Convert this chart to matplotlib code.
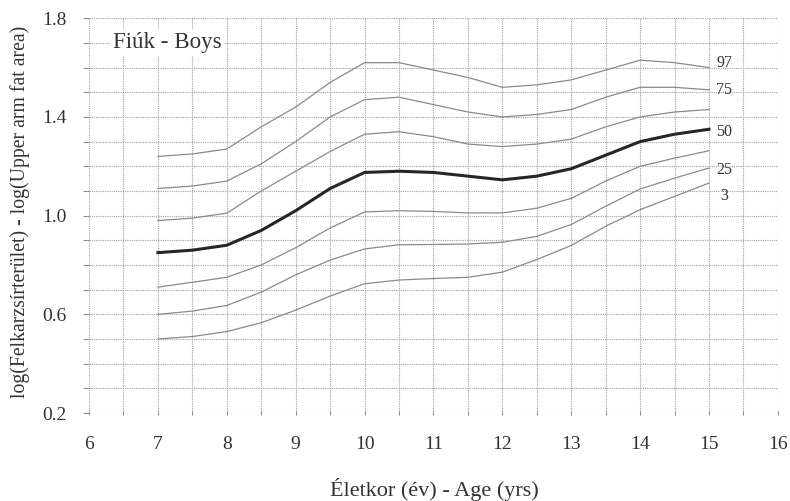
import numpy as np
import matplotlib
matplotlib.use('Agg')
import matplotlib.pyplot as plt

plt.rcParams['font.family'] = ['Liberation Serif', 'DejaVu Serif']

# eletkor (ev) - age in years
ages = [7, 7.5, 8, 8.5, 9, 9.5, 10, 10.5, 11, 11.5, 12, 12.5, 13, 13.5, 14, 14.5, 15]

# percentile curves
p97 = [1.24, 1.25, 1.27, 1.36, 1.44, 1.54, 1.62, 1.62, 1.59, 1.56, 1.52, 1.53, 1.55, 1.59, 1.63, 1.62, 1.60]
p90 = [0.98, 0.99, 1.01, 1.10, 1.18, 1.26, 1.33, 1.34, 1.32, 1.29, 1.28, 1.29, 1.31, 1.36, 1.40, 1.42, 1.43]
p75 = [1.11, 1.12, 1.14, 1.21, 1.30, 1.40, 1.47, 1.48, 1.45, 1.42, 1.40, 1.41, 1.43, 1.48, 1.52, 1.52, 1.51]
p50 = [0.85, 0.86, 0.88, 0.94, 1.02, 1.11, 1.175, 1.18, 1.175, 1.16, 1.145, 1.16, 1.19, 1.245, 1.30, 1.33, 1.35]
p25 = [0.71, 0.73, 0.75, 0.80, 0.87, 0.95, 1.015, 1.02, 1.017, 1.011, 1.011, 1.03, 1.07, 1.14, 1.20, 1.233, 1.263]
p10 = [0.60, 0.613, 0.636, 0.69, 0.76, 0.82, 0.865, 0.882, 0.883, 0.885, 0.892, 0.916, 0.964, 1.038, 1.108, 1.152, 1.193]
p3 = [0.50, 0.51, 0.53, 0.566, 0.617, 0.674, 0.724, 0.739, 0.745, 0.75, 0.771, 0.822, 0.879, 0.957, 1.024, 1.078, 1.132]

# curve labels on the right and where they sit
lab_text = ['97', '75', '50', '25', '3']
lab_y = [1.617, 1.509, 1.34, 1.183, 1.078]
lab_x = 15.22

fig = plt.figure(figsize=(7.9, 5.01), dpi=100)
ax = fig.add_axes([0.1127, 0.1756, 0.872, 0.788])

thin = dict(color='#8a8a8a', lw=0.9)
for ser in [p97, p75, p90, p25, p10, p3]:
    ax.plot(ages, ser, **thin)
ax.plot(ages, p50, color='#262626', lw=2.2)

for t, y in zip(lab_text, lab_y):
    ax.text(lab_x, y, t, ha='center', va='center', fontsize=11.5, color='#333333')

ax.text(7.13, 1.70, 'Fiúk - Boys', ha='center', va='center', fontsize=16.5, color='#333333',
        bbox=dict(facecolor='white', edgecolor='none', pad=2))

ax.set_xlim(6, 16)
ax.set_ylim(0.2, 1.8)
ax.set_xticks(np.arange(6, 17, 1))
ax.set_xticks(np.arange(6, 16.5, 0.5), minor=True)
ax.set_yticks([0.2, 0.6, 1.0, 1.4, 1.8])
ax.set_yticks(np.arange(0.2, 1.85, 0.1), minor=True)
ax.set_yticklabels(['0.2', '0.6', '1.0', '1.4', '1.8'])
ax.grid(True, which='both', color='#a0a0a0', lw=0.8, ls=(0, (1, 1)))
ax.set_axisbelow(True)
for s in ax.spines.values():
    s.set_visible(False)

ax.tick_params(axis='y', which='both', length=4, width=0.7, color='#888888', pad=12,
               labelsize=14, labelcolor='#333333')
ax.tick_params(axis='x', which='both', length=3, width=0.7, color='#888888', direction='inout',
               pad=15, labelsize=14, labelcolor='#333333')

ax.set_xlabel('Életkor (év) - Age (yrs)', fontsize=16, color='#333333')
ax.set_ylabel('log(Felkarzsírterület) - log(Upper arm fat area)', fontsize=14.2, color='#333333')
ax.xaxis.set_label_coords(0.502, -0.1646)
ax.yaxis.set_label_coords(-0.0856, 0.509)

fig.savefig('out.png', dpi=100)
